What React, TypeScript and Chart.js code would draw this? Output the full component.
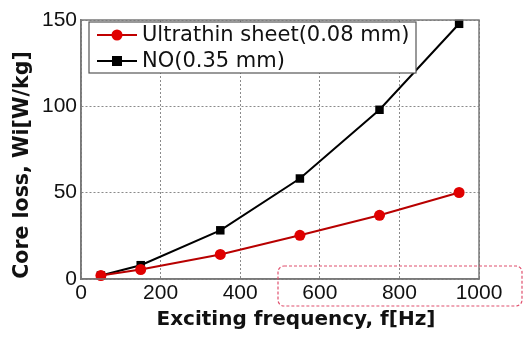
import React, { useEffect, useRef } from "react";
import { Chart, registerables } from "chart.js";

Chart.register(...registerables);

const frequencies = [50, 150, 350, 550, 750, 950];
const ultrathinLoss = [2, 5.5, 14.2, 25.3, 36.9, 50.1];
const noLoss = [2, 8, 28.2, 58.2, 98, 147.8];
const seriesNames = ["Ultrathin sheet(0.08 mm)", "NO(0.35 mm)"];
const xTitle = "Exciting frequency, f[Hz]";
const yTitle = "Core loss, Wi[W/kg]";

const TEXT_FONT = "'DejaVu Sans', sans-serif";
const TICK_FONT = "'Liberation Sans', Arial, sans-serif";

const overlayPlugin = {
  id: "overlay",
  afterDraw(chart: any) {
    const { ctx, chartArea } = chart;
    const { left, right, top, bottom } = chartArea;
    ctx.save();
    // plot frame
    ctx.strokeStyle = "#7a7a7a";
    ctx.lineWidth = 1.5;
    ctx.setLineDash([]);
    ctx.strokeRect(left, top, right - left, bottom - top);

    // legend box
    const lx = 89, ly = 22, lw = 327, lh = 51;
    ctx.fillStyle = "#ffffff";
    ctx.fillRect(lx, ly, lw, lh);
    ctx.strokeStyle = "#555";
    ctx.lineWidth = 1.2;
    ctx.strokeRect(lx, ly, lw, lh);
    const rows = [
      { y: 35, color: "#c00000", fill: "#e00000", shape: "circle", label: seriesNames[0] },
      { y: 61, color: "#000000", fill: "#000000", shape: "square", label: seriesNames[1] },
    ];
    ctx.font = `21px ${TEXT_FONT}`;
    ctx.textBaseline = "middle";
    ctx.textAlign = "left";
    for (const r of rows) {
      ctx.strokeStyle = r.color;
      ctx.lineWidth = 2;
      ctx.beginPath();
      ctx.moveTo(97, r.y);
      ctx.lineTo(137, r.y);
      ctx.stroke();
      ctx.fillStyle = r.fill;
      if (r.shape === "circle") {
        ctx.beginPath();
        ctx.arc(117, r.y, 5.5, 0, Math.PI * 2);
        ctx.fill();
      } else {
        ctx.fillRect(112, r.y - 5, 10, 10);
      }
      ctx.fillStyle = "#111";
      ctx.fillText(r.label, 142, r.y + 1);
    }

    // axis titles
    ctx.fillStyle = "#111";
    ctx.font = `bold 20px ${TEXT_FONT}`;
    ctx.textAlign = "center";
    ctx.textBaseline = "middle";
    ctx.fillText(xTitle, 296, 320);
    ctx.save();
    ctx.translate(23, 165);
    ctx.rotate(-Math.PI / 2);
    ctx.font = `bold 20.5px ${TEXT_FONT}`;
    ctx.fillText(yTitle, 0, 0);
    ctx.restore();

    // red dashed rounded highlight
    ctx.strokeStyle = "#e0506e";
    ctx.lineWidth = 1.2;
    ctx.setLineDash([3, 2]);
    ctx.beginPath();
    const rx = 278, ry = 266, rw = 244, rh = 40, rr = 6;
    ctx.moveTo(rx + rr, ry);
    ctx.arcTo(rx + rw, ry, rx + rw, ry + rh, rr);
    ctx.arcTo(rx + rw, ry + rh, rx, ry + rh, rr);
    ctx.arcTo(rx, ry + rh, rx, ry, rr);
    ctx.arcTo(rx, ry, rx + rw, ry, rr);
    ctx.closePath();
    ctx.stroke();
    ctx.restore();
  },
};

export default function App() {
  const canvasRef = useRef<HTMLCanvasElement | null>(null);

  useEffect(() => {
    document.body.style.margin = "0";
    const canvas = canvasRef.current;
    if (!canvas) return;
    const chart = new Chart(canvas, {
      type: "line",
      data: {
        datasets: [
          {
            label: seriesNames[0],
            data: frequencies.map((f, i) => ({ x: f, y: ultrathinLoss[i] })),
            borderColor: "#b80000",
            backgroundColor: "#e00000",
            borderWidth: 2,
            pointStyle: "circle",
            pointRadius: 5.5,
            pointBorderWidth: 0,
            clip: false,
          },
          {
            label: seriesNames[1],
            data: frequencies.map((f, i) => ({ x: f, y: noLoss[i] })),
            borderColor: "#000000",
            backgroundColor: "#000000",
            borderWidth: 2,
            pointStyle: "rect",
            pointRadius: 6,
            pointBorderWidth: 0,
            clip: false,
          },
        ],
      },
      options: {
        animation: false,
        responsive: false,
        maintainAspectRatio: false,
        layout: { padding: { top: 20, right: 45, left: 0, bottom: 0 } },
        plugins: { legend: { display: false }, tooltip: { enabled: false } },
        scales: {
          x: {
            type: "linear",
            min: 0,
            max: 1000,
            ticks: {
              stepSize: 200,
              color: "#111",
              font: { size: 21, family: TICK_FONT },
              padding: 2,
              maxRotation: 0,
              callback: (v: any) => String(v),
            },
            grid: { color: "#8a8a8a", lineWidth: 1, drawTicks: false },
            border: { display: true, color: "#7a7a7a", width: 1.5, dash: [2, 2] },
            afterFit(scale: any) {
              scale.height = 59;
            },
          },
          y: {
            type: "linear",
            min: 0,
            max: 150,
            ticks: {
              stepSize: 50,
              color: "#111",
              font: { size: 21, family: TICK_FONT },
              padding: 4,
              callback: (v: any) => String(v),
            },
            grid: { color: "#8a8a8a", lineWidth: 1, drawTicks: false },
            border: { display: true, color: "#7a7a7a", width: 1.5, dash: [2, 2] },
            afterFit(scale: any) {
              scale.width = 81;
            },
          },
        },
      },
      plugins: [overlayPlugin],
    } as any);
    return () => chart.destroy();
  }, []);

  return (
    <div style={{ position: "absolute", left: 0, top: 0, width: 524, height: 338, background: "#fff" }}>
      <canvas ref={canvasRef} width={524} height={338} style={{ width: 524, height: 338 }} />
    </div>
  );
}
